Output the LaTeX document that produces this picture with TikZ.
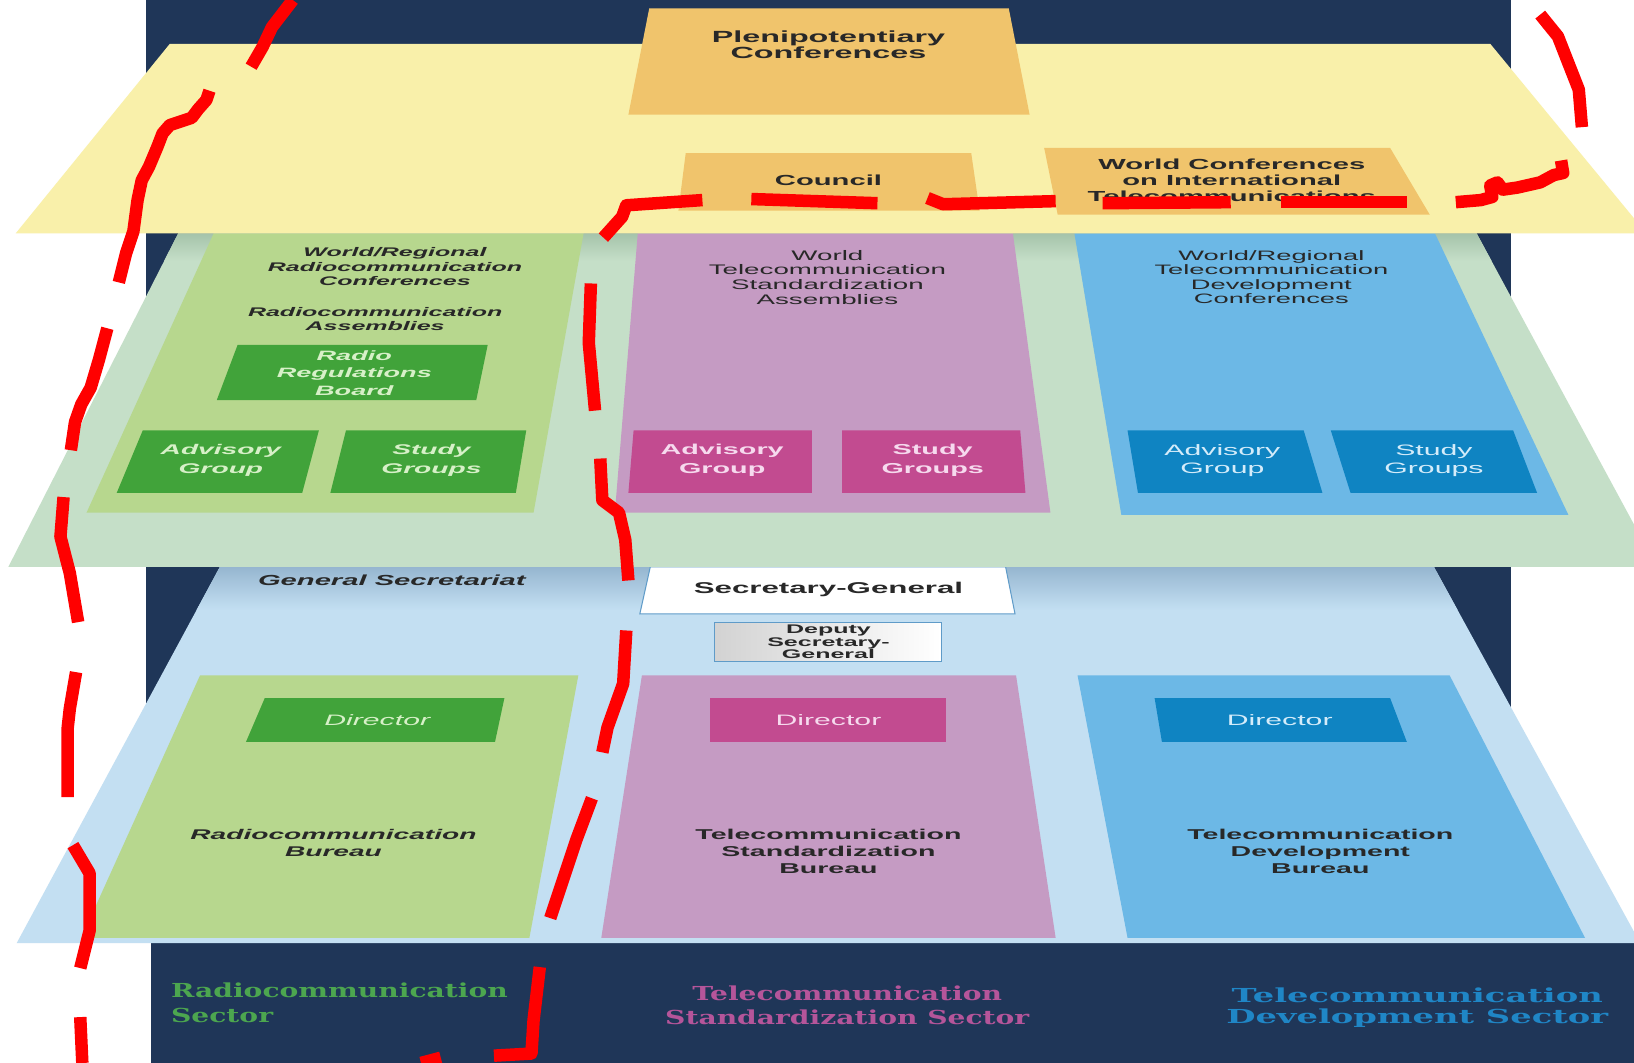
\documentclass[tikz,border=0pt]{standalone}
\usepackage{fontspec}
\newfontfamily\wf{Liberation Sans}[FakeStretch=2.0]
\newfontfamily\slab{DejaVu Serif}[FakeStretch=1.46]
\newfontfamily\slabw{DejaVu Serif}[FakeStretch=1.75]
\definecolor{navy}{RGB}{31,54,88}
\definecolor{yel}{RGB}{249,240,170}
\definecolor{org}{RGB}{240,196,108}
\definecolor{ggray}{RGB}{197,223,200}
\definecolor{lgreen}{RGB}{183,215,142}
\definecolor{dgreen}{RGB}{65,163,58}
\definecolor{pinkp}{RGB}{197,155,195}
\definecolor{mag}{RGB}{194,75,144}
\definecolor{bluep}{RGB}{108,184,230}
\definecolor{dblue}{RGB}{15,132,194}
\definecolor{lblue}{RGB}{195,223,242}
\definecolor{txt}{RGB}{40,40,40}
\definecolor{gtxt}{RGB}{215,240,200}
\definecolor{ptxt}{RGB}{246,218,238}
\definecolor{btxt}{RGB}{212,236,250}
\definecolor{secg}{RGB}{76,166,79}
\definecolor{secm}{RGB}{181,85,154}
\definecolor{secb}{RGB}{31,134,198}
\definecolor{edgeb}{RGB}{95,155,200}
\definecolor{shadowb}{RGB}{150,182,208}
\definecolor{shadowg}{RGB}{165,195,170}
\tikzset{
  lbl/.style={align=center, inner sep=0pt, text=txt},
  reddash/.style={draw=red, line width=12pt, line join=round},
}
\begin{document}
\begin{tikzpicture}[x=1pt,y=-1pt]
\useasboundingbox (0,0) rectangle (1568,1020);
\fill[white] (0,0) rectangle (1568,1020);
% back panel and bottom band
\fill[navy] (140,0) rectangle (1450,905);
\fill[navy] (145,905) rectangle (1568,1020);

% ---------- layer 3 (secretariat) ----------
\fill[lblue] (211,544) -- (1376,544) -- (1574,905) -- (16,905) -- cycle;
\begin{scope}
\clip (211,544) -- (1376,544) -- (1574,905) -- (16,905) -- cycle;
\shade[top color=shadowb, bottom color=lblue] (0,544) rectangle (1568,585);
\end{scope}
\node[lbl, font={\wf\bfseries\itshape\fontsize{14}{16}\selectfont}] (gs) at (376,557) {General Secretariat};
\fill[white, draw=edgeb, line width=1pt] (624,544) -- (965,544) -- (974,589) -- (614,589) -- cycle;
\node[lbl, font={\wf\bfseries\fontsize{15}{16}\selectfont}] (sg) at (795,566) {Secretary-General};
\shade[left color=gray!35, right color=white, draw=edgeb, line width=1pt] (686,597) rectangle (903,635);
\node[lbl, font={\wf\bfseries\fontsize{12}{12}\selectfont}] (dsg) at (795,616) {Deputy\\Secretary-\\General};

\fill[lgreen] (192,648) -- (555,648) -- (508,900) -- (78,900) -- cycle;
\fill[dgreen] (254,670) -- (484,670) -- (475,712) -- (236,712) -- cycle;
\node[lbl, text=gtxt, font={\wf\itshape\fontsize{14.5}{16}\selectfont}] (dirR) at (362,691) {Director};
\node[lbl, font={\wf\bfseries\itshape\fontsize{13.5}{17}\selectfont}] (brR) at (320,809) {Radiocommunication\\Bureau};

\fill[pinkp] (616,648) -- (975,648) -- (1013,900) -- (577,900) -- cycle;
\fill[mag] (681,670) rectangle (908,712);
\node[lbl, text=ptxt, font={\wf\fontsize{14.5}{16}\selectfont}] (dirT) at (795,691) {Director};
\node[lbl, font={\wf\bfseries\fontsize{13.7}{16.5}\selectfont}] (brT) at (795,817) {Telecommunication\\Standardization\\Bureau};

\fill[bluep] (1034,648) -- (1391,648) -- (1521,900) -- (1082,900) -- cycle;
\fill[dblue] (1108,670) -- (1334,670) -- (1350,712) -- (1115,712) -- cycle;
\node[lbl, text=btxt, font={\wf\fontsize{14.5}{16}\selectfont}] (dirD) at (1228,691) {Director};
\node[lbl, font={\wf\bfseries\fontsize{13.7}{16.5}\selectfont}] (brD) at (1267,817) {Telecommunication\\Development\\Bureau};

% ---------- layer 2 (sectors) ----------
\fill[ggray] (171,224) -- (1417,224) -- (1590,544) -- (8,544) -- cycle;
\begin{scope}
\clip (171,224) -- (1417,224) -- (1590,544) -- (8,544) -- cycle;
\shade[top color=shadowg, bottom color=ggray] (0,224) rectangle (1568,250);
\end{scope}
% radiocommunication
\fill[lgreen] (205,224) -- (560,224) -- (512,492) -- (83,492) -- cycle;
\node[lbl, font={\wf\bfseries\itshape\fontsize{12}{14}\selectfont}] (wrrc) at (379,256) {World/Regional\\Radiocommunication\\Conferences};
\node[lbl, font={\wf\bfseries\itshape\fontsize{12}{14}\selectfont}] (ra) at (360,306) {Radiocommunication\\Assemblies};
\fill[dgreen] (228,331) -- (468,331) -- (457,384) -- (208,384) -- cycle;
\node[lbl, text=gtxt, font={\wf\bfseries\itshape\fontsize{13}{16.5}\selectfont}] (rrb) at (340,358) {Radio\\Regulations\\Board};
\fill[dgreen] (137,413) -- (306,413) -- (290,473) -- (112,473) -- cycle;
\node[lbl, text=gtxt, font={\wf\bfseries\itshape\fontsize{13.5}{18}\selectfont}] (advR) at (212,442) {Advisory\\Group};
\fill[dgreen] (332,413) -- (505,413) -- (495,473) -- (317,473) -- cycle;
\node[lbl, text=gtxt, font={\wf\bfseries\itshape\fontsize{13.5}{18}\selectfont}] (sgR) at (414,442) {Study\\Groups};
% standardization
\fill[pinkp] (612,224) -- (972,224) -- (1008,492) -- (590,492) -- cycle;
\node[lbl, font={\wf\fontsize{13.3}{14}\selectfont}] (wtsa) at (794,266) {World\\Telecommunication\\Standardization\\Assemblies};
\fill[mag] (608,413) -- (779,413) -- (779,473) -- (603,473) -- cycle;
\node[lbl, text=ptxt, font={\wf\bfseries\fontsize{13.8}{18}\selectfont}] (advT) at (693,442) {Advisory\\Group};
\fill[mag] (808,413) -- (979,413) -- (984,473) -- (808,473) -- cycle;
\node[lbl, text=ptxt, font={\wf\bfseries\fontsize{13.8}{18}\selectfont}] (sgT) at (895,442) {Study\\Groups};
% development
\fill[bluep] (1031,224) -- (1377,224) -- (1505,494) -- (1076,494) -- cycle;
\node[lbl, font={\wf\fontsize{13.1}{14}\selectfont}] (wtdc) at (1220,266) {World/Regional\\Telecommunication\\Development\\Conferences};
\fill[dblue] (1082,413) -- (1251,413) -- (1269,473) -- (1092,473) -- cycle;
\node[lbl, text=btxt, font={\wf\fontsize{14.5}{18}\selectfont}] (advD) at (1173,442) {Advisory\\Group};
\fill[dblue] (1277,413) -- (1452,413) -- (1475,473) -- (1296,473) -- cycle;
\node[lbl, text=btxt, font={\wf\fontsize{14.5}{18}\selectfont}] (sgD) at (1376,442) {Study\\Groups};

% ---------- layer 1 (top bodies) ----------
\fill[yel] (163,42) -- (1430,42) -- (1580,224) -- (15,224) -- cycle;
\fill[org] (623,8) -- (968,8) -- (988,110) -- (603,110) -- cycle;
\node[lbl, font={\wf\bfseries\fontsize{15.5}{15}\selectfont}] (pleni) at (795,43) {Plenipotentiary\\Conferences};
\fill[org] (658,147) -- (932,147) -- (940,202) -- (651,202) -- cycle;
\node[lbl, font={\wf\bfseries\fontsize{14}{15}\selectfont}] (council) at (795,173) {Council};
\fill[org] (1002,142) -- (1334,142) -- (1372,206) -- (1015,206) -- cycle;
\node[lbl, font={\wf\bfseries\fontsize{14}{15.5}\selectfont}] (wcit) at (1182,173) {World Conferences\\on International\\Telecommunications};

% ---------- sector captions ----------
\node[lbl, anchor=west, align=left, text=secg, font={\slab\bfseries\fontsize{18.5}{24}\selectfont}] (secR) at (164,962) {Radiocommunication\\Sector};
\node[lbl, text=secm, font={\slab\bfseries\fontsize{18.5}{23}\selectfont}] (secT) at (813,965) {Telecommunication\\Standardization Sector};
\node[lbl, text=secb, font={\slabw\bfseries\fontsize{18.5}{21}\selectfont}] (secD) at (1360,967) {Telecommunication\\Development Sector};

% ---------- red hand-drawn dashes ----------
\draw[reddash] (281,0) -- (261,26) -- (252,45) -- (241,64);
\draw[reddash] (201,87) -- (198,96) -- (190,105) -- (184,113) -- (163,120) -- (156,128) -- (151,141) -- (143,160) -- (136,173) -- (132,192) -- (128,222) -- (121,243) -- (114,271);
\draw[reddash] (103,315) -- (95,345) -- (87,372) -- (78,388) -- (72,405) -- (68,432);
\draw[reddash] (61,477) -- (58,515) -- (67,550) -- (75,597);
\draw[reddash] (73,645) -- (67,680) -- (65,698) -- (65,765);
\draw[reddash] (70,811) -- (86,838) -- (86,893) -- (77,929);
\draw[reddash] (77,976) -- (79,1020);
\draw[reddash] (1478,14) -- (1495,35) -- (1504,58) -- (1515,86) -- (1518,122);
\draw[reddash] (1498,154) -- (1500,166) -- (1491,168) -- (1478,175) -- (1456,180) -- (1442,182) -- (1437,175) -- (1430,178) -- (1432,189) -- (1421,192) -- (1397,194);
\draw[reddash] (1350,194) -- (1229,194);
\draw[reddash] (1181,194) -- (1058,195);
\draw[reddash] (1013,193) -- (905,196) -- (890,190);
\draw[reddash] (842,195) -- (721,191);
\draw[reddash] (674,192) -- (601,197) -- (597,208) -- (579,228);
\draw[reddash] (567,272) -- (565,329) -- (571,394);
\draw[reddash] (576,440) -- (578,480) -- (594,492) -- (600,518) -- (603,557);
\draw[reddash] (601,605) -- (598,656) -- (583,698) -- (578,722);
\draw[reddash] (568,766) -- (553,806) -- (528,881);
\draw[reddash] (518,928) -- (512,979) -- (510,1011) -- (474,1013);
\draw[reddash] (423,1015) -- (404,1020);
\end{tikzpicture}
\end{document}
